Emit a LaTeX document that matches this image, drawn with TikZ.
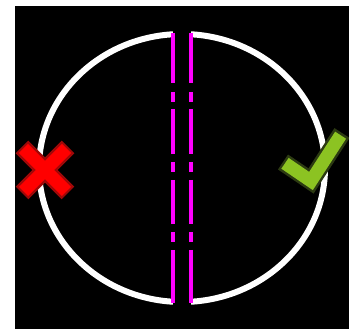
\documentclass[tikz,border=0pt]{standalone}
\begin{document}
\begin{tikzpicture}[x=1pt,y=-1pt,
  ring/.style={draw=white,line width=6pt},
  axisline/.style={draw=pmag,line width=4.5pt},
  crossout/.style={draw=xdark,line width=18pt},
  crossin/.style={draw=pred,line width=13pt},
  tickout/.style={draw=tdark,line width=18pt,line join=miter},
  tickin/.style={draw=tgreen,line width=13pt,line join=miter}]
\definecolor{pmag}{RGB}{255,0,255}
\definecolor{pred}{RGB}{255,0,0}
\definecolor{xdark}{HTML}{A00808}
\definecolor{tdark}{HTML}{2C3A12}
\definecolor{tgreen}{HTML}{8CC322}
\useasboundingbox (0,0) rectangle (349,329);
\fill[white] (0,0) rectangle (349,329);
\fill[black] (15,6) rectangle (349,329);
% ring
\draw[ring] (182,168) ellipse [x radius=143, y radius=134];
\fill[black] (173,20) rectangle (191,316);
% dash-dot lines
\foreach \xx in {173,191}{
  \foreach \ya/\yb in {33/83,92/102,109/154,162/172,180/224,232/242,250/303}{
    \draw[axisline] (\xx,\ya) -- (\xx,\yb);
  }
}
% red cross
\begin{scope}[shift={(45,170)}]
  \draw[crossout] (-23,-23) -- (23,23);
  \draw[crossout] (-23,23) -- (23,-23);
  \draw[crossin] (-21.5,-21.5) -- (21.5,21.5);
  \draw[crossin] (-21.5,21.5) -- (21.5,-21.5);
\end{scope}
% green tick
\draw[tickout] (283,162) -- (311,181) -- (342,133);
\draw[tickin] (285,163.3) -- (311,181) -- (340.6,135.2);
\end{tikzpicture}
\end{document}
